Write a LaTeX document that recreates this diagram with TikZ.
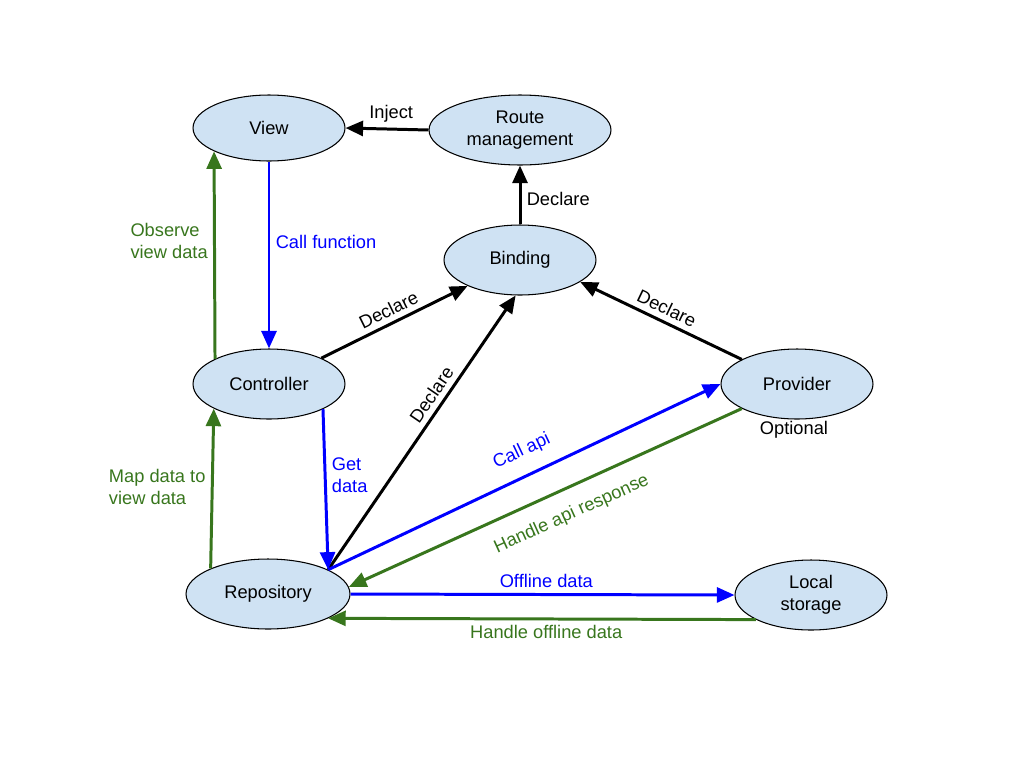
\documentclass[tikz,border=0pt]{standalone}
\usepackage{fontspec}
\setmainfont{Liberation Sans}
\usetikzlibrary{shapes.geometric,arrows.meta}
\definecolor{nodefill}{HTML}{CFE2F3}
\definecolor{flowgreen}{HTML}{38761D}
\definecolor{flowblue}{HTML}{0000FF}

\begin{document}
\begin{tikzpicture}[x=0.02cm,y=-0.02cm,
  every node/.style={font=\fontsize{10.4}{12.5}\selectfont},
  comp/.style={ellipse, draw=black, line width=0.6pt, fill=nodefill,
    inner sep=0pt, align=center},
  link/.style={line width=1.7pt, -{Triangle[length=10pt,width=8.5pt]}},
  declare/.style={link, black},
  callflow/.style={link, flowblue},
  dataflow/.style={link, flowgreen},
  lbl/.style={inner sep=3pt, align=left}
]
\useasboundingbox (0,0) rectangle (1024,768);

% components
\node[comp, minimum width=3.04cm, minimum height=1.32cm] (view)  at (269,128) {View};
\node[comp, minimum width=3.64cm, minimum height=1.40cm] (route) at (520,130) {Route\\management};
\node[comp, minimum width=3.04cm, minimum height=1.40cm] (bind)  at (520,260) {Binding};
\node[comp, minimum width=3.04cm, minimum height=1.40cm] (ctrl)  at (269,384) {Controller};
\node[comp, minimum width=3.04cm, minimum height=1.40cm] (prov)  at (797,384) {Provider};
\node[comp, minimum width=3.28cm, minimum height=1.40cm] (repo)  at (268,594) {Repository};
\node[comp, minimum width=3.04cm, minimum height=1.40cm] (local) at (811,595) {Local\\storage};

\node[inner sep=1pt, anchor=north] (opt) at ([xshift=-0.06cm]prov.south) {Optional};

% declarations and injection
\draw[declare] (route.west) -- node[lbl, pos=0.45, above] {Inject} (view.east);
\draw[declare] (bind.north) -- node[lbl, pos=0.43, right] {Declare} (route.south);
\draw[declare] (ctrl) -- node[lbl, midway, sloped, above] {Declare} (bind);
\draw[declare] (repo.22.4) -- node[lbl, pos=0.61, sloped, above] {Declare} (bind.263.5);
\draw[declare] (prov.156.3) -- node[lbl, midway, sloped, above] {Declare} (bind.-20);

% calls
\draw[callflow] (view.south) -- node[lbl, pos=0.43, right, text=flowblue] {Call function} (ctrl.north);
\draw[callflow] (ctrl.-25.3) -- node[lbl, pos=0.41, right, text=flowblue] {Get\\data} (repo.22.4);
\draw[callflow] (repo.22.4) -- node[lbl, pos=0.52, sloped, above=5pt, text=flowblue] {Call api} (prov.west);
\draw[callflow] (repo.east) -- node[lbl, pos=0.51, above, text=flowblue] {Offline data} (local.west);

% returned data
\draw[dataflow] (ctrl.155.5) -- node[lbl, pos=0.57, left, text=flowgreen] {Observe\\view data} (view.203.3);
\draw[dataflow] (repo.156.2) -- node[lbl, pos=0.51, left, text=flowgreen] {Map data to\\view data} (ctrl.204.5);
\draw[dataflow] (prov.204.5) -- node[lbl, pos=0.46, sloped, below=6pt, text=flowgreen] {Handle api response} (repo.5);
\draw[dataflow] (local.204.5) -- node[lbl, pos=0.49, below, text=flowgreen] {Handle offline data} (repo.-22.9);
\end{tikzpicture}
\end{document}
